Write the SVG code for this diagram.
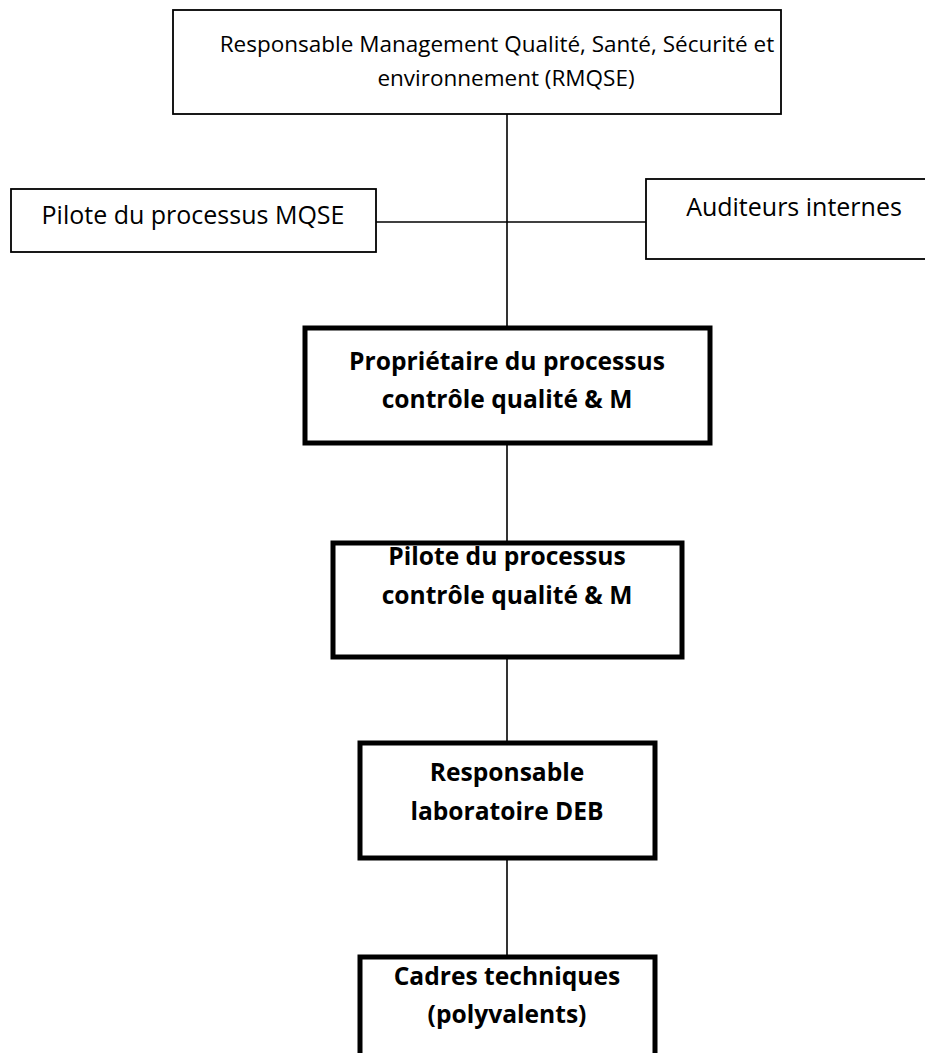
<svg xmlns="http://www.w3.org/2000/svg" width="925" height="1053" viewBox="0 0 925 1053">
  <style>
    .thin { fill: #ffffff; stroke: #000000; stroke-width: 1.8; }
    .thick { fill: #ffffff; stroke: #000000; stroke-width: 5; }
    .wire { stroke: #000000; stroke-width: 1.6; fill: none; }
    .lbl { font-family: "Open Sans", "DejaVu Sans", sans-serif; font-size: 25px; fill: #000000; text-anchor: middle; }
    .top { font-size: 22.5px; }
    .b { font-weight: bold; font-size: 24.6px; }
  </style>
  <rect width="925" height="1053" fill="#ffffff"/>

  <!-- connectors -->
  <g id="connectors">
    <line class="wire" x1="507" y1="114" x2="507" y2="328"/>
    <line class="wire" x1="376" y1="222" x2="646" y2="222"/>
    <line class="wire" x1="507" y1="443" x2="507" y2="543"/>
    <line class="wire" x1="507" y1="657" x2="507" y2="743"/>
    <line class="wire" x1="507" y1="858" x2="507" y2="957"/>
  </g>

  <g id="rmqse">
    <rect class="thin" x="173" y="10" width="608" height="104"/>
    <text class="lbl top" x="497" y="52">Responsable Management Qualité, Santé, Sécurité et</text>
    <text class="lbl top" x="506" y="86">environnement (RMQSE)</text>
  </g>

  <g id="pilote-mqse">
    <rect class="thin" x="11" y="189" width="365" height="63"/>
    <text class="lbl" x="193" y="224">Pilote du processus MQSE</text>
  </g>

  <g id="auditeurs">
    <rect class="thin" x="646" y="179" width="290" height="80"/>
    <text class="lbl" x="794" y="216">Auditeurs internes</text>
  </g>

  <g id="proprietaire">
    <rect class="thick" x="305" y="328" width="405" height="115"/>
    <text class="lbl b" x="507" y="370">Propriétaire du processus</text>
    <text class="lbl b" x="507" y="408">contrôle qualité &amp; M</text>
  </g>

  <g id="pilote-cq">
    <rect class="thick" x="333" y="543" width="349" height="114"/>
    <text class="lbl b" x="507" y="565">Pilote du processus</text>
    <text class="lbl b" x="507" y="604">contrôle qualité &amp; M</text>
  </g>

  <g id="resp-labo">
    <rect class="thick" x="360" y="743" width="295" height="115"/>
    <text class="lbl b" x="507" y="781">Responsable</text>
    <text class="lbl b" x="507" y="820">laboratoire DEB</text>
  </g>

  <g id="cadres">
    <rect class="thick" x="360" y="957" width="295" height="110"/>
    <text class="lbl b" x="507" y="985">Cadres techniques</text>
    <text class="lbl b" x="507" y="1023">(polyvalents)</text>
  </g>
</svg>
